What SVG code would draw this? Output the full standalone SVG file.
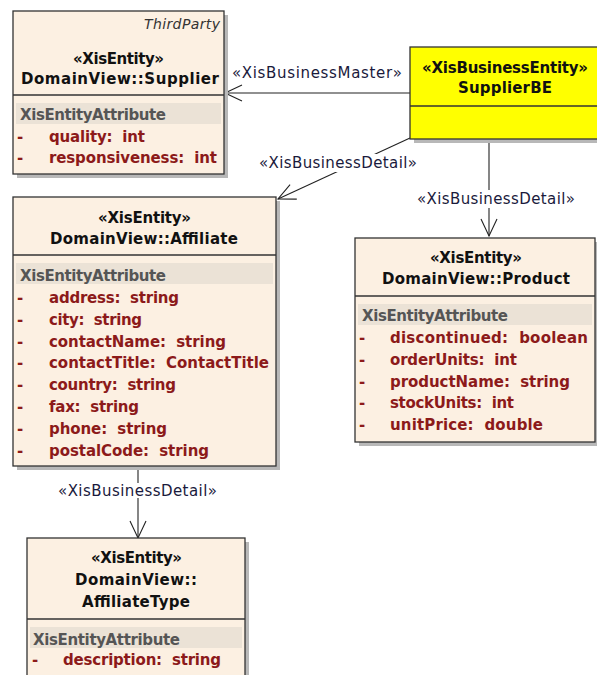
<svg xmlns="http://www.w3.org/2000/svg" width="597" height="675" viewBox="0 0 597 675">
<style>
text{font-family:"DejaVu Sans","Liberation Sans",sans-serif;}
.box{fill:#fcf0e2;stroke:#333;stroke-width:1.3;}
.be{fill:#ffff00;stroke:#333;stroke-width:1.3;}
.shd{fill:#b8b8b8;}
.div{stroke:#333;stroke-width:1.3;}
.band{fill:#ebe2d6;}
.t{font-size:15px;font-weight:bold;fill:#111;}
.ah{font-size:15px;font-weight:bold;fill:#555;}
.at{font-size:15px;font-weight:bold;fill:#8c1a1a;}
.dash{font-size:15px;font-weight:bold;fill:#8c1a1a;}
.tp{font-size:14px;font-style:italic;fill:#333;}
.lb{font-size:15px;fill:#1a1a3c;}
.cn{stroke:#222;stroke-width:1.1;fill:none;}
.bg{fill:#fff;}
</style>
<defs>
<marker id="arr" markerUnits="userSpaceOnUse" markerWidth="20" markerHeight="20" viewBox="-18 -10 20 20" refX="0" refY="0" orient="auto">
<path d="M-17,-8 L0,0 L-17,8" fill="none" stroke="#222" stroke-width="1.1"/>
</marker>
</defs>
<rect width="597" height="675" fill="#fff"/>

<g id="connectors">
<line class="cn" x1="410" y1="93" x2="225" y2="93" marker-end="url(#arr)"/>
<text class="lb" x="232" y="78" textLength="170">«XisBusinessMaster»</text>
<line class="cn" x1="410" y1="138" x2="278" y2="199" marker-end="url(#arr)"/>
<rect class="bg" x="256" y="154" width="164" height="18"/>
<text class="lb" x="259" y="168" textLength="158">«XisBusinessDetail»</text>
<line class="cn" x1="489" y1="139" x2="489" y2="236" marker-end="url(#arr)"/>
<rect class="bg" x="415" y="190" width="162" height="18"/>
<text class="lb" x="417" y="204" textLength="158">«XisBusinessDetail»</text>
<line class="cn" x1="138" y1="466" x2="138" y2="538" marker-end="url(#arr)"/>
<rect class="bg" x="56" y="483" width="163" height="15"/>
<text class="lb" x="58" y="496" textLength="159">«XisBusinessDetail»</text>
</g>

<g id="supplier">
<rect class="shd" x="17" y="15" width="211" height="163"/>
<rect class="box" x="13" y="11" width="211" height="163"/>
<line class="div" x1="13" y1="95" x2="224" y2="95"/>
<rect class="band" x="16" y="103" width="205" height="21"/>
<text class="tp" x="144" y="29" textLength="76">ThirdParty</text>
<text class="t" x="73" y="64" textLength="91">«XisEntity»</text>
<text class="t" x="21" y="84" textLength="198">DomainView::Supplier</text>
<text class="ah" x="20" y="120" textLength="146">XisEntityAttribute</text>
<text class="dash" x="17" y="142">-</text>
<text class="at" x="49" y="142" textLength="96" xml:space="preserve">quality:  int</text>
<text class="dash" x="17" y="163">-</text>
<text class="at" x="49" y="163" textLength="168" xml:space="preserve">responsiveness:  int</text>
</g>

<g id="supplierbe">
<rect class="shd" x="414" y="51" width="200" height="92"/>
<rect class="be" x="410" y="47" width="200" height="92"/>
<line class="div" x1="410" y1="106" x2="610" y2="106"/>
<text class="t" x="422" y="73" textLength="166">«XisBusinessEntity»</text>
<text class="t" x="458" y="93" textLength="94">SupplierBE</text>
</g>

<g id="affiliate">
<rect class="shd" x="17" y="201" width="263" height="269"/>
<rect class="box" x="13" y="197" width="263" height="269"/>
<line class="div" x1="13" y1="255" x2="276" y2="255"/>
<rect class="band" x="16" y="263" width="257" height="21"/>
<text class="t" x="98" y="223" textLength="93">«XisEntity»</text>
<text class="t" x="50" y="244" textLength="188">DomainView::Affiliate</text>
<text class="ah" x="20" y="281" textLength="146">XisEntityAttribute</text>
<text class="dash" x="17" y="303">-</text>
<text class="at" x="49" y="303" textLength="130" xml:space="preserve">address:  string</text>
<text class="dash" x="17" y="325">-</text>
<text class="at" x="49" y="325" textLength="93" xml:space="preserve">city:  string</text>
<text class="dash" x="17" y="347">-</text>
<text class="at" x="49" y="347" textLength="177" xml:space="preserve">contactName:  string</text>
<text class="dash" x="17" y="368">-</text>
<text class="at" x="49" y="368" textLength="220" xml:space="preserve">contactTitle:  ContactTitle</text>
<text class="dash" x="17" y="390">-</text>
<text class="at" x="49" y="390" textLength="127" xml:space="preserve">country:  string</text>
<text class="dash" x="17" y="412">-</text>
<text class="at" x="49" y="412" textLength="90" xml:space="preserve">fax:  string</text>
<text class="dash" x="17" y="434">-</text>
<text class="at" x="49" y="434" textLength="118" xml:space="preserve">phone:  string</text>
<text class="dash" x="17" y="456">-</text>
<text class="at" x="49" y="456" textLength="160" xml:space="preserve">postalCode:  string</text>
</g>

<g id="product">
<rect class="shd" x="359" y="242" width="240" height="204"/>
<rect class="box" x="355" y="238" width="240" height="204"/>
<line class="div" x1="355" y1="296" x2="595" y2="296"/>
<rect class="band" x="358" y="304" width="234" height="21"/>
<text class="t" x="430" y="263" textLength="92">«XisEntity»</text>
<text class="t" x="382" y="284" textLength="188">DomainView::Product</text>
<text class="ah" x="362" y="321" textLength="146">XisEntityAttribute</text>
<text class="dash" x="359" y="343">-</text>
<text class="at" x="390" y="343" textLength="198" xml:space="preserve">discontinued:  boolean</text>
<text class="dash" x="359" y="365">-</text>
<text class="at" x="390" y="365" textLength="127" xml:space="preserve">orderUnits:  int</text>
<text class="dash" x="359" y="387">-</text>
<text class="at" x="390" y="387" textLength="180" xml:space="preserve">productName:  string</text>
<text class="dash" x="359" y="408">-</text>
<text class="at" x="390" y="408" textLength="124" xml:space="preserve">stockUnits:  int</text>
<text class="dash" x="359" y="430">-</text>
<text class="at" x="390" y="430" textLength="153" xml:space="preserve">unitPrice:  double</text>
</g>

<g id="affiliatetype">
<rect class="shd" x="31" y="542" width="218" height="150"/>
<rect class="box" x="27" y="538" width="218" height="150"/>
<line class="div" x1="27" y1="619" x2="245" y2="619"/>
<rect class="band" x="30" y="627" width="212" height="21"/>
<text class="t" x="91" y="563" textLength="91">«XisEntity»</text>
<text class="t" x="75" y="585" textLength="122">DomainView::</text>
<text class="t" x="82" y="607" textLength="108">AffiliateType</text>
<text class="ah" x="33" y="645" textLength="147">XisEntityAttribute</text>
<text class="dash" x="32" y="665">-</text>
<text class="at" x="63" y="665" textLength="158" xml:space="preserve">description:  string</text>
</g>
</svg>
